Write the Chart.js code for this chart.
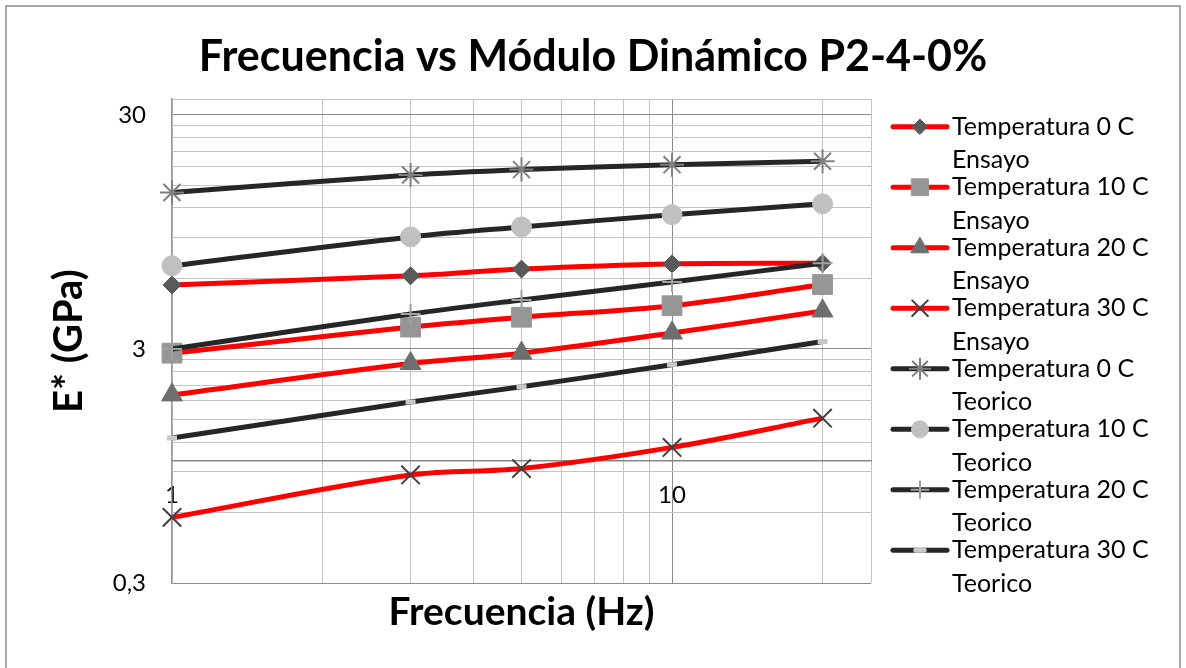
<!DOCTYPE html>
<html lang="es">
<head>
    <meta charset="UTF-8">
    <title>Frecuencia vs Módulo Dinámico P2-4-0%</title>
    <script src="https://cdn.jsdelivr.net/npm/chart.js"></script>
    <style>
        html, body { margin: 0; padding: 0; background: #fff; }
        #wrap { width: 1186px; height: 668px; position: relative; }
    </style>
</head>
<body>
<div id="wrap"><canvas id="grafico"></canvas></div>

<script>
    // Frecuencia (Hz)
    const frecuencias = [1, 3, 5, 10, 20];

    // E* (GPa) - ensayo
    const ensayo0C  = [5.63, 6.16, 6.58, 6.92, 6.97];
    const ensayo10C = [2.88, 3.72, 4.10, 4.59, 5.65];
    const ensayo20C = [1.91, 2.60, 2.88, 3.51, 4.36];
    const ensayo30C = [0.573, 0.87, 0.926, 1.14, 1.52];

    // E* (GPa) - teorico
    const teorico0C  = [13.97, 16.6, 17.5, 18.37, 18.99];
    const teorico10C = [6.80, 9.03, 9.96, 11.24, 12.5];
    const teorico20C = [3.0, 4.23, 4.86, 5.80, 6.97];
    const teorico30C = [1.25, 1.78, 2.07, 2.57, 3.23];

    const nombres = [
        ['Temperatura 0 C', 'Ensayo'], ['Temperatura 10 C', 'Ensayo'],
        ['Temperatura 20 C', 'Ensayo'], ['Temperatura 30 C', 'Ensayo'],
        ['Temperatura 0 C', 'Teorico'], ['Temperatura 10 C', 'Teorico'],
        ['Temperatura 20 C', 'Teorico'], ['Temperatura 30 C', 'Teorico']
    ];

    // lineas de la grilla y etiquetas de los ejes
    const xTicks = [1, 2, 3, 4, 5, 6, 7, 8, 9, 10, 20, 25];
    const xEtiquetas = [1, 10];
    const yTicks = [0.3, 0.6, 0.9, 1.2, 1.5, 1.8, 2.1, 2.4, 2.7, 3, 6, 9, 12, 15, 18, 21, 24, 27, 30, 35];
    const yEtiquetas = [0.3, 3, 30];

    const series = [ensayo0C, ensayo10C, ensayo20C, ensayo30C, teorico0C, teorico10C, teorico20C, teorico30C];
    const colorLinea = ['#ff0000', '#ff0000', '#ff0000', '#ff0000', '#262626', '#262626', '#262626', '#262626'];
    const marcadores = [
        { estilo: 'rectRot',  radio: 9,  color: '#595959', borde: 1 },
        { estilo: 'rect',     radio: 14, color: '#969696', borde: 1 },
        { estilo: 'triangle', radio: 12, color: '#6e6e6e', borde: 1 },
        { estilo: 'crossRot', radio: 13, color: '#404040', borde: 2 },
        { estilo: 'star',     radio: 12, color: '#7f7f7f', borde: 2 },
        { estilo: 'circle',   radio: 10, color: '#c0c0c0', borde: 1 },
        { estilo: 'cross',    radio: 10, color: '#a0a0a0', borde: 2 },
        { estilo: 'line',     radio: 5,  color: '#c8c8c8', borde: 5 }
    ];

    Chart.defaults.font.family = 'Lato, "Open Sans", sans-serif';
    Chart.defaults.color = '#000';

    // marco exterior del grafico
    const marco = {
        id: 'marco',
        beforeDraw(chart) {
            const ctx = chart.ctx;
            ctx.save();
            ctx.fillStyle = '#fff';
            ctx.fillRect(0, 0, chart.width, chart.height);
            ctx.strokeStyle = '#8a8a8a';
            ctx.lineWidth = 1.5;
            ctx.strokeRect(6, 6, chart.width - 12, chart.height + 20);
            ctx.restore();
        }
    };

    // leyenda a la derecha, dos lineas por serie
    const leyenda = {
        id: 'leyenda',
        afterDraw(chart) {
            const ctx = chart.ctx;
            const x0 = chart.chartArea.right + 22;
            const x1 = x0 + 54;
            const xt = x1 + 5;
            const drawPoint = Chart.helpers && Chart.helpers.drawPoint;
            chart.data.datasets.forEach((ds, i) => {
                const y = 126.7 + i * 60.5;
                ctx.save();
                ctx.strokeStyle = ds.borderColor;
                ctx.lineWidth = ds.borderWidth;
                ctx.lineCap = 'round';
                ctx.beginPath();
                ctx.moveTo(x0, y);
                ctx.lineTo(x1, y);
                ctx.stroke();
                if (drawPoint) {
                    ctx.fillStyle = ds.pointBackgroundColor;
                    ctx.strokeStyle = ds.pointBorderColor;
                    ctx.lineWidth = ds.pointBorderWidth;
                    drawPoint(ctx, { pointStyle: ds.pointStyle, radius: ds.pointRadius * 0.85, borderWidth: ds.pointBorderWidth, rotation: 0 }, (x0 + x1) / 2, y);
                }
                ctx.fillStyle = '#000';
                ctx.font = '25px Lato, "Open Sans", sans-serif';
                ctx.textBaseline = 'middle';
                ctx.textAlign = 'left';
                ctx.fillText(nombres[i][0], xt, y);
                ctx.fillText(nombres[i][1], xt, y + 33.5);
                ctx.restore();
            });
        }
    };

    const grafico = new Chart(document.getElementById('grafico'), {
        type: 'line',
        data: {
            datasets: series.map((valores, i) => ({
                label: nombres[i].join(' '),
                data: frecuencias.map((f, k) => ({ x: f, y: valores[k] })),
                borderColor: colorLinea[i],
                borderWidth: 5,
                tension: 0.35,
                pointStyle: marcadores[i].estilo,
                pointRadius: marcadores[i].radio,
                pointHoverRadius: marcadores[i].radio,
                pointBackgroundColor: marcadores[i].color,
                pointBorderColor: marcadores[i].color,
                pointBorderWidth: marcadores[i].borde,
                clip: false,
                order: series.length - i
            }))
        },
        options: {
            responsive: true,
            maintainAspectRatio: false,
            animation: false,
            events: [],
            layout: { padding: 0 },
            plugins: {
                legend: { display: false },
                tooltip: { enabled: false },
                title: {
                    display: true,
                    text: 'Frecuencia vs Módulo Dinámico P2-4-0%',
                    font: { size: 43, weight: 'bold' },
                    color: '#000',
                    padding: { top: 31, bottom: 16.5 }
                },
                subtitle: {
                    display: true,
                    position: 'bottom',
                    fullSize: false,
                    text: 'Frecuencia (Hz)',
                    font: { size: 39, weight: 'bold' },
                    color: '#000',
                    padding: { top: 6, bottom: 32 }
                }
            },
            scales: {
                x: {
                    type: 'logarithmic',
                    position: { y: 1 },
                    min: 1,
                    max: 25,
                    afterBuildTicks: s => { s.ticks = xTicks.map(v => ({ value: v })); },
                    ticks: {
                        autoSkip: false,
                        maxRotation: 0,
                        padding: 20,
                        font: { size: 24 },
                        color: '#000',
                        callback: v => xEtiquetas.includes(v) ? String(v) : ''
                    },
                    grid: {
                        drawTicks: false,
                        color: c => (c.tick && c.tick.value === 10) ? '#8c8c8c' : '#c4c4c4'
                    },
                    border: { display: true, color: '#868686', width: 1.5 }
                },
                y: {
                    type: 'logarithmic',
                    position: 'left',
                    min: 0.3,
                    max: 35,
                    afterBuildTicks: s => { s.ticks = yTicks.map(v => ({ value: v })); },
                    afterFit: s => { s.width = 172; },
                    ticks: {
                        autoSkip: false,
                        padding: 26,
                        font: { size: 24 },
                        color: '#000',
                        callback: v => yEtiquetas.includes(v) ? String(v).replace('.', ',') : ''
                    },
                    grid: {
                        drawTicks: false,
                        color: c => (c.tick && yEtiquetas.includes(c.tick.value)) ? '#8c8c8c' : '#c4c4c4'
                    },
                    border: { display: true, color: '#9a9a9a', width: 1.5 },
                    title: {
                        display: true,
                        text: 'E* (GPa)',
                        font: { size: 40, weight: 'bold' },
                        color: '#000',
                        padding: { top: 45, bottom: 0 }
                    }
                },
                // espacio reservado para la leyenda
                espacio: {
                    type: 'linear',
                    position: 'right',
                    display: true,
                    afterFit: s => { s.width = 315; },
                    ticks: { display: false },
                    grid: { display: false },
                    border: { display: false }
                }
            }
        },
        plugins: [marco, leyenda]
    });
</script>
</body>
</html>
